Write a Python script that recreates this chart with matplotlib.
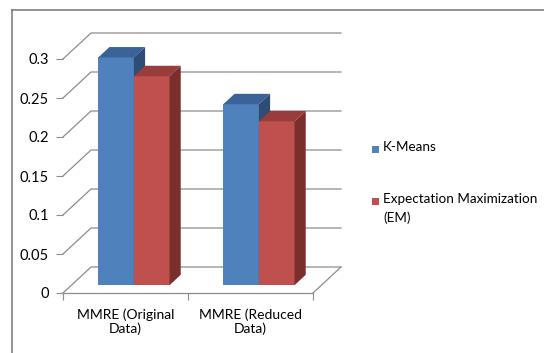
import matplotlib
matplotlib.use("Agg")
import matplotlib.pyplot as plt
from matplotlib.patches import Polygon, Rectangle
from matplotlib.lines import Line2D

categories = ["MMRE (Original\nData)", "MMRE (Reduced\nData)"]
series_names = ["K-Means", "Expectation Maximization\n(EM)"]
kmeans = [0.292, 0.232]
em = [0.268, 0.210]
y_ticks = [0, 0.05, 0.1, 0.15, 0.2, 0.25, 0.3]
y_labels = ["0", "0.05", "0.1", "0.15", "0.2", "0.25", "0.3"]

# face colours: front, top, side
blue = ("#4F81BD", "#3B6397", "#2E4D75")
red = ("#C0504D", "#983D3B", "#7A2F2D")
grid_col = "#8C8C8C"

plt.rcParams["font.family"] = ["Lato", "DejaVu Sans"]

W, H = 544, 353
fig = plt.figure(figsize=(W / 100, H / 100), dpi=100)
ax = fig.add_axes([63 / W, 60 / H, 250 / W, 234 / H])
ax.set_xlim(0, 2)
ax.set_ylim(0, 0.3)

# oblique depth offset expressed in data units
dx = 28 / 125.0
dy = 26 / 234.0 * 0.3

# walls: gridlines running back along the side wall and across the back wall
for v in y_ticks:
    ax.plot([0, dx, 2 + dx], [v, v + dy, v + dy], color=grid_col,
            lw=0.9, clip_on=False, zorder=1)
ax.plot([2, 2 + dx], [0, dy], color=grid_col, lw=0.9, clip_on=False, zorder=1)


def box(x0, x1, h, cols, d0=0.3, d1=0.7):
    fx0, fy0 = dx * d0, dy * d0
    fx1, fy1 = dx * d1, dy * d1
    front = [(x0 + fx0, fy0), (x1 + fx0, fy0), (x1 + fx0, h + fy0), (x0 + fx0, h + fy0)]
    top = [(x0 + fx0, h + fy0), (x1 + fx0, h + fy0), (x1 + fx1, h + fy1), (x0 + fx1, h + fy1)]
    side = [(x1 + fx0, fy0), (x1 + fx1, fy1), (x1 + fx1, h + fy1), (x1 + fx0, h + fy0)]
    for pts, c in ((front, cols[0]), (top, cols[1]), (side, cols[2])):
        ax.add_patch(Polygon(pts, closed=True, facecolor=c, edgecolor="none",
                             clip_on=False, zorder=3))


half = 0.285
for i in range(len(categories)):
    c = i + 0.5
    box(c - half, c, kmeans[i], blue)
    box(c, c + half, em[i], red)

for s in ("top", "right", "left"):
    ax.spines[s].set_visible(False)
ax.spines["bottom"].set_color(grid_col)
ax.spines["bottom"].set_linewidth(0.9)

ax.set_yticks(y_ticks)
ax.set_yticklabels(y_labels)
ax.tick_params(axis="y", length=5, color=grid_col, pad=5, labelsize=10.5)
ax.set_xticks([0, 1, 2])
ax.set_xticklabels(["", "", ""])
ax.tick_params(axis="x", which="major", length=5, color=grid_col)
ax.set_xticks([0.5, 1.5], minor=True)
ax.set_xticklabels(categories, minor=True, fontsize=10, linespacing=1.2)
ax.tick_params(axis="x", which="minor", length=0, pad=11)

# legend
legend_y = [149, 201]
for name, col, ypix in zip(series_names, [blue[0], red[0]], legend_y):
    fig.add_artist(Rectangle((372 / W, 1 - (ypix + 4) / H), 7 / W, 7 / H,
                             transform=fig.transFigure, facecolor=col, edgecolor="none"))
    fig.text(383 / W, 1 - (ypix - 8) / H, name, fontsize=9.7, va="top", ha="left",
             linespacing=1.6)

# chart frame
fig.add_artist(Line2D([12 / W, 1], [1 - 10 / H, 1 - 10 / H], color="#808080", lw=1.2,
                      transform=fig.transFigure))
fig.add_artist(Line2D([12 / W, 12 / W], [0, 1 - 10 / H], color="#808080", lw=1.2,
                      transform=fig.transFigure))

fig.savefig("out.png", dpi=100)
